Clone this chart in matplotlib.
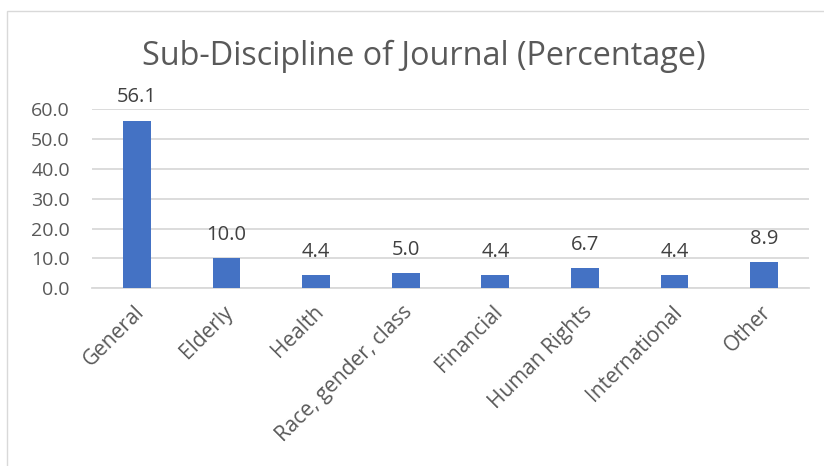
import matplotlib
matplotlib.use("Agg")
import matplotlib.pyplot as plt
from matplotlib.patches import Rectangle
from matplotlib.transforms import ScaledTranslation

categories = ["General", "Elderly", "Health", "Race, gender, class",
              "Financial", "Human Rights", "International", "Other"]
percentages = [56.1, 10.0, 4.4, 5.0, 4.4, 6.7, 4.4, 8.9]
y_ticks = [0, 10, 20, 30, 40, 50, 60]
title = "Sub-Discipline of Journal (Percentage)"

BAR = "#4472C4"
GRID = "#D9D9D9"
TEXT = "#595959"
LABEL = "#404040"

plt.rcParams["font.family"] = ["Open Sans", "DejaVu Sans"]

fig = plt.figure(figsize=(8.24, 4.66), dpi=100)
fig.patch.set_facecolor("white")

# chart frame
fig.patches.append(Rectangle((6.5 / 824, -0.2), 2.0, 1.2 - 10.5 / 466,
                             transform=fig.transFigure, fill=False,
                             edgecolor=GRID, linewidth=1.0))

ax = fig.add_axes([92 / 824, (466 - 288.3) / 466, 717 / 824, 179.3 / 466])
x = range(len(categories))
ax.bar(x, percentages, width=0.31, color=BAR, zorder=3)

for xi, v in zip(x, percentages):
    ax.annotate(f"{v:.1f}", (xi, v), xytext=(0, 9.5), textcoords="offset points",
                ha="center", va="bottom", fontsize=14.5, color=LABEL)

ax.set_xlim(-0.5, len(categories) - 0.5)
ax.set_ylim(0, 60)
ax.set_yticks(y_ticks)
ax.set_yticklabels([f"{t:.1f}" for t in y_ticks], fontsize=14, color=TEXT)
ax.yaxis.grid(True, color=GRID, linewidth=1.3, zorder=0)
ax.set_axisbelow(True)
ax.tick_params(axis="y", length=0, pad=16)
ax.tick_params(axis="x", length=0, pad=15)
ax.set_xticks(list(x))
ax.set_xticklabels(categories, rotation=45, ha="right", va="center",
                   rotation_mode="anchor", fontsize=15, color=TEXT)
shift = ScaledTranslation(4 / 100, 0, fig.dpi_scale_trans)
for lbl in ax.get_xticklabels():
    lbl.set_transform(lbl.get_transform() + shift)
for s in ["left", "right", "top"]:
    ax.spines[s].set_visible(False)
ax.spines["bottom"].set_color(GRID)
ax.spines["bottom"].set_linewidth(1.3)

fig.text(423.5 / 824, 1 - 65 / 466, title, ha="center", va="baseline",
         fontsize=23.3, color=TEXT)

fig.savefig("out.png", dpi=100)
